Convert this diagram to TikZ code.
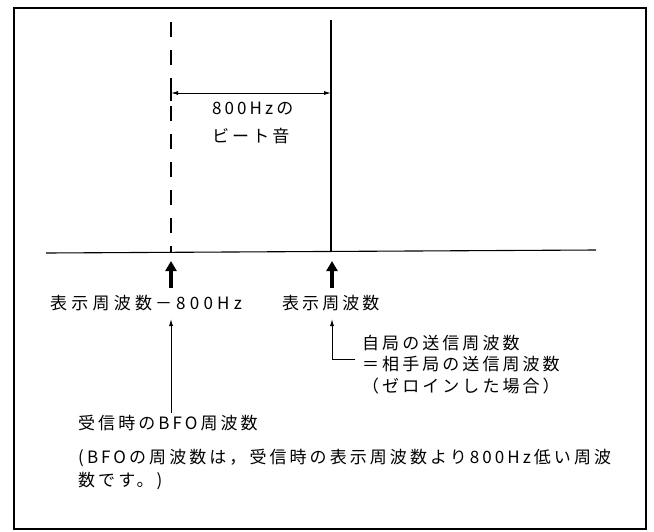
\documentclass[tikz,border=0pt]{standalone}
\usepackage{fontspec}
\setmainfont{Noto Sans CJK JP}[LetterSpace=18]
\newfontfamily\widefont{Noto Sans CJK JP}[LetterSpace=25]
\usetikzlibrary{arrows.meta}
\begin{document}
\begin{tikzpicture}[x=1pt,y=-1pt,
  txt/.style={font=\fontsize{17}{20}\selectfont, inner sep=0pt, anchor=west},
  widetxt/.style={font=\widefont\fontsize{17}{20}\selectfont, inner sep=0pt, anchor=west},
  thin/.style={line width=1.1pt},
  thickarrow/.style={line width=4pt, -{Triangle[length=10pt,width=11pt]}},
  thinarrow/.style={line width=0.9pt, -{Latex[length=7pt,width=4pt]}},
  dimarrow/.style={line width=0.9pt, {Latex[length=7pt,width=4pt]}-{Latex[length=7pt,width=4pt]}}]
\useasboundingbox (0,0) rectangle (654,531);
% frame
\draw[line width=2pt] (14,8) rectangle (646,529);
% axis
\coordinate (axL) at (46,253);
\coordinate (axR) at (596,250);
\draw[thin] (axL) -- (axR);
% lines
\coordinate (dtop) at (171,22);
\coordinate (dbot) at (171,252);
\coordinate (stop) at (331,20);
\coordinate (sbot) at (331,251);
\draw[thin, dash pattern=on 15pt off 13pt] (dtop) -- (dbot);
\draw[thin] (stop) -- (sbot);
% dimension
\coordinate (dimL) at (171,93);
\coordinate (dimR) at (331,93);
\draw[thin] (171,85) -- (171,101);
\draw[dimarrow] (dimL) -- (dimR);
\node[txt] (beat1) at (212,109) {800Hzの};
\node[txt] (beat2) at (212,136) {ビート音};
% thick arrows
\coordinate (ta1b) at (171,288);
\coordinate (ta1t) at (171,261);
\coordinate (ta2b) at (332,288);
\coordinate (ta2t) at (332,261);
\draw[thickarrow] (ta1b) -- (ta1t);
\draw[thickarrow] (ta2b) -- (ta2t);
% labels
\node[widetxt] (l1) at (50,303) {表示周波数\hspace{3pt}－\hspace{4pt}800Hz};
\node[txt] (l2) at (282,303) {表示周波数};
% thin arrows
\coordinate (a1b) at (171,413);
\coordinate (a1t) at (171,319);
\draw[thinarrow] (a1b) -- (a1t);
\coordinate (a2e) at (355,359);
\coordinate (a2c) at (332,359);
\coordinate (a2t) at (332,319);
\draw[thinarrow] (a2e) -- (a2c) -- (a2t);
% right texts
\node[txt] (r1) at (362,343) {自局の送信周波数};
\node[txt] (r2) at (362,364) {＝相手局の送信周波数};
\node[txt] (r3) at (362,386) {（ゼロインした場合）};
% bottom texts
\node[txt] (bfo) at (78,423) {受信時のBFO周波数};
\node[txt] (n1) at (78,458) {(BFOの周波数は，受信時の表示周波数より800Hz低い周波};
\node[txt] (n2) at (78,481) {数です。)};
\end{tikzpicture}
\end{document}
